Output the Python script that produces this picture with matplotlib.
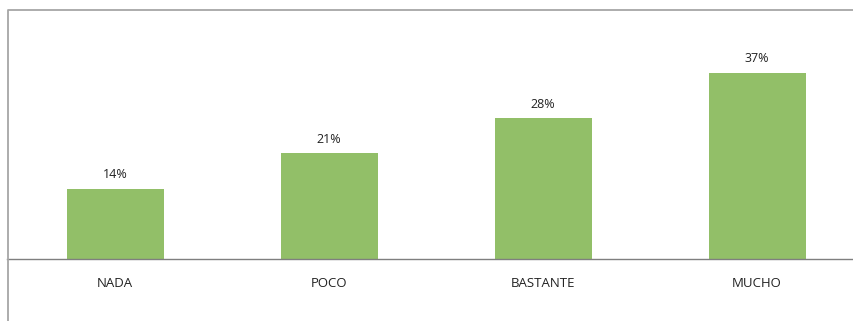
import matplotlib
matplotlib.use("Agg")
import matplotlib.pyplot as plt
from matplotlib.lines import Line2D

categories = ["NADA", "POCO", "BASTANTE", "MUCHO"]
values = [14, 21, 28, 37]
value_labels = ["14%", "21%", "28%", "37%"]

W, H = 854, 321
fig = plt.figure(figsize=(W / 100, H / 100), dpi=100)
plt.rcParams['font.family'] = ['Open Sans', 'DejaVu Sans']

left_px, right_px = 8, 854
base_px, top_px = 259, 10
step = 214.0
ax = fig.add_axes([left_px / W, 1 - base_px / H, (right_px - left_px) / W, (base_px - top_px) / H])
ax.set_xlim(-0.5, -0.5 + (right_px - left_px) / step)
pxper = 5.03
ax.set_ylim(0, (base_px - top_px) / pxper)

x = list(range(len(categories)))
ax.bar(x, values, width=97 / step, color="#92BF68", zorder=2)
for xi, v, lab in zip(x, values, value_labels):
    ax.text(xi, v + 2.8, lab, ha="center", va="center", fontsize=9, color="#222222")
    ax.text(xi, -4.9, categories[xi], ha="center", va="center", fontsize=9.5,
            color="#222222", clip_on=False)

for s in ax.spines.values():
    s.set_visible(False)
ax.set_xticks([])
ax.set_yticks([])
ax.patch.set_alpha(0)

# axis line
fig.add_artist(Line2D([7 / W, 1], [1 - base_px / H] * 2, color="#7F7F7F", lw=1.0,
                      transform=fig.transFigure))
# outer frame
fig.add_artist(Line2D([left_px / W, left_px / W, 1], [0, 1 - top_px / H, 1 - top_px / H],
                      color="#A6A6A6", lw=1.3, transform=fig.transFigure))

fig.savefig("out.png", dpi=100)
